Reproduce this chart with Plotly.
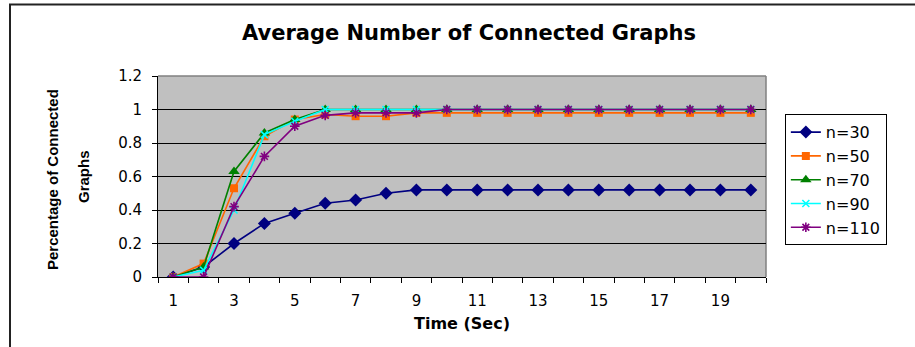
import plotly.graph_objects as go

# Time steps (seconds) and the share of connected graphs for each network size
time_sec = list(range(1, 21))
n30 = [0, 0.06, 0.20, 0.32, 0.38, 0.44, 0.46, 0.50, 0.52, 0.52,
       0.52, 0.52, 0.52, 0.52, 0.52, 0.52, 0.52, 0.52, 0.52, 0.52]
n50 = [0, 0.08, 0.53, 0.84, 0.94, 0.97, 0.96, 0.96, 0.98, 0.98,
       0.98, 0.98, 0.98, 0.98, 0.98, 0.98, 0.98, 0.98, 0.98, 0.98]
n70 = [0, 0.06, 0.63, 0.86, 0.94, 1.0, 1.0, 1.0, 1.0, 1.0,
       1.0, 1.0, 1.0, 1.0, 1.0, 1.0, 1.0, 1.0, 1.0, 1.0]
n90 = [0, 0.04, 0.40, 0.85, 0.93, 1.0, 1.0, 1.0, 1.0, 1.0,
       1.0, 1.0, 1.0, 1.0, 1.0, 1.0, 1.0, 1.0, 1.0, 1.0]
n110 = [0, 0, 0.42, 0.72, 0.90, 0.965, 0.98, 0.98, 0.98, 1.0,
        1.0, 1.0, 1.0, 1.0, 1.0, 1.0, 1.0, 1.0, 1.0, 1.0]

series_names = ["n=30", "n=50", "n=70", "n=90", "n=110"]
x_tick_labels = [str(v) for v in range(1, 20, 2)]
y_tick_values = [0, 0.2, 0.4, 0.6, 0.8, 1.0, 1.2]
y_tick_labels = ["0", "0.2", "0.4", "0.6", "0.8", "1", "1.2"]

FONT = "DejaVu Sans, Arial, sans-serif"

styles = [
    dict(color="#000080", symbol="diamond", size=10, lw=1.6),
    dict(color="#FF6600", symbol="square", size=8, lw=1.6),
    dict(color="#008000", symbol="triangle-up", size=10, lw=1.6),
    dict(color="#00FFFF", symbol="x-thin-open", size=7, lw=1.6),
    dict(color="#800080", symbol="asterisk-open", size=8, lw=1.6),
]

fig = go.Figure()
for name, ys, st in zip(series_names, [n30, n50, n70, n90, n110], styles):
    marker = dict(symbol=st["symbol"], size=st["size"], color=st["color"])
    if st["symbol"].endswith("-open"):
        marker["line"] = dict(color=st["color"], width=1.6)
    else:
        marker["line"] = dict(width=0)
    fig.add_trace(go.Scatter(
        x=time_sec, y=ys, name=name, mode="lines+markers",
        line=dict(color=st["color"], width=st["lw"]),
        marker=marker,
    ))

fig.update_layout(
    width=915, height=347,
    margin=dict(l=158, r=149, t=76, b=70),
    paper_bgcolor="white",
    plot_bgcolor="#C0C0C0",
    font=dict(family=FONT, size=15, color="black"),
    showlegend=True,
    legend=dict(
        x=1.031, y=0.81, xanchor="left", yanchor="top",
        bgcolor="white", bordercolor="black", borderwidth=1,
        font=dict(family=FONT, size=16, color="black"),
        tracegroupgap=0, itemwidth=30,
    ),
    title=dict(
        text="<b>Average Number of Connected Graphs</b>",
        x=469 / 915, xanchor="center", y=1 - 33 / 347, yanchor="middle",
        font=dict(family=FONT, size=21, color="black"),
    ),
)

fig.update_xaxes(
    range=[0.5, 20.5],
    tickvals=list(range(1, 20, 2)), ticktext=x_tick_labels,
    ticks="", showgrid=False, zeroline=False,
    showline=True, linecolor="black", linewidth=1,
    tickfont=dict(family=FONT, size=15, color="black"),
    ticklabelstandoff=10,
    minor=dict(tickvals=[i + 0.5 for i in range(0, 21)], ticks="outside",
               ticklen=5, tickcolor="black", tickwidth=1, showgrid=False),
    title=dict(text="<b>Time (Sec)</b>", font=dict(family=FONT, size=16, color="black"),
               standoff=8),
)

fig.update_yaxes(
    range=[0, 1.2], tickvals=y_tick_values, ticktext=y_tick_labels,
    ticks="outside", ticklen=5, tickcolor="black",
    showgrid=True, gridcolor="black", gridwidth=1,
    zeroline=False, showline=True, linecolor="black", linewidth=1,
    tickfont=dict(family=FONT, size=15, color="black"),
    ticklabelstandoff=7,
)

# Gray border on the plot area's top and right sides
fig.add_shape(type="line", xref="paper", yref="paper", x0=0, x1=1, y0=1, y1=1,
              line=dict(color="#808080", width=1.5), layer="below")
fig.add_shape(type="line", xref="paper", yref="paper", x0=1, x1=1, y0=0, y1=1,
              line=dict(color="#808080", width=1.5), layer="below")

# Outer chart frame: top edge and left edge
pw, ph = 915 - 158 - 149, 347 - 76 - 70
def px(xp):
    return (xp - 158) / pw
def py(yp):
    return (347 - 70 - yp) / ph
fig.add_shape(type="line", xref="paper", yref="paper",
              x0=px(9), x1=px(915), y0=py(4.5), y1=py(4.5),
              line=dict(color="#222222", width=2))
fig.add_shape(type="line", xref="paper", yref="paper",
              x0=px(10), x1=px(10), y0=py(4), y1=py(347),
              line=dict(color="#222222", width=2))

# Two-line vertical axis title
YT_FONT = "Liberation Sans Narrow, Arial Narrow, Liberation Sans, sans-serif"
fig.add_annotation(text="<b>Percentage of Connected</b>", xref="paper", yref="paper",
                   x=px(52), y=py(180), textangle=-90, showarrow=False,
                   xanchor="center", yanchor="middle",
                   font=dict(family=YT_FONT, size=15, color="black"))
fig.add_annotation(text="<b>Graphs</b>", xref="paper", yref="paper",
                   x=px(83), y=py(177), textangle=-90, showarrow=False,
                   xanchor="center", yanchor="middle",
                   font=dict(family=YT_FONT, size=15, color="black"))

fig.write_html("out.html")
